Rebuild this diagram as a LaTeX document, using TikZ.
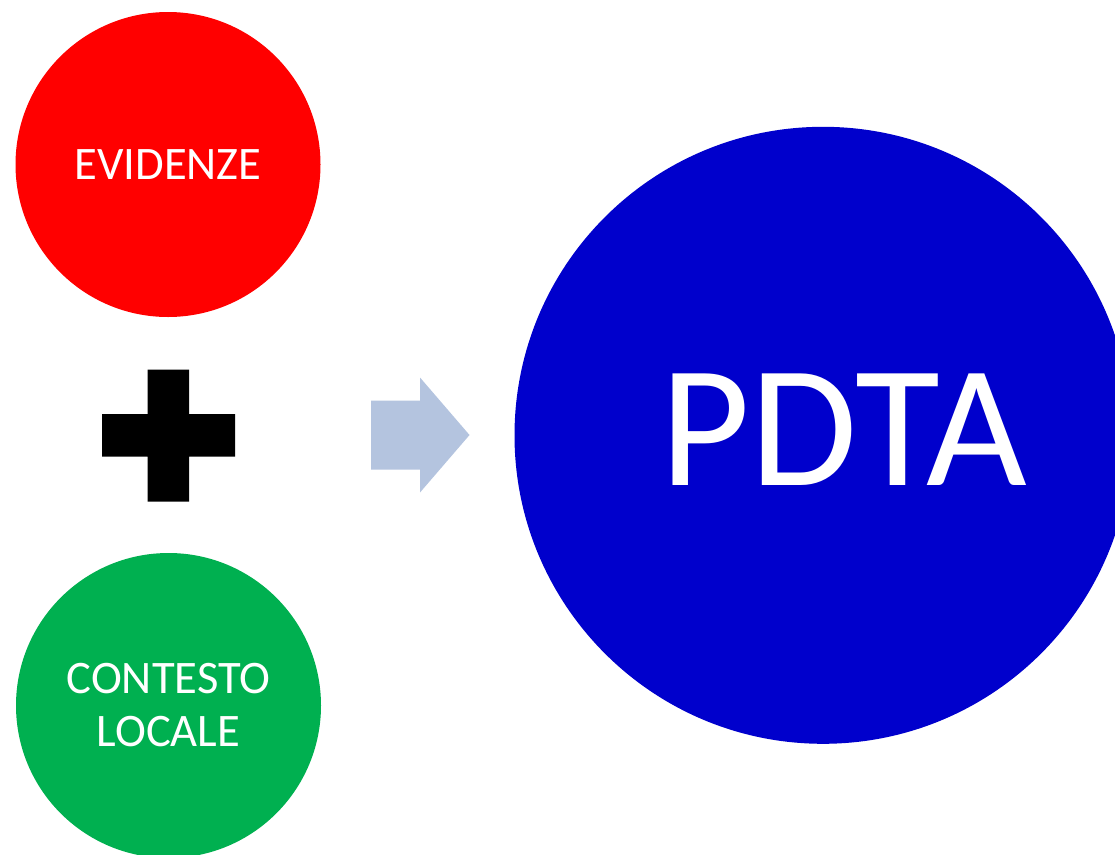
\documentclass[tikz,border=0pt]{standalone}
\usepackage{fontspec}
\setmainfont{Carlito}
\definecolor{cred}{HTML}{FF0000}
\definecolor{cgreen}{HTML}{00B050}
\definecolor{cblue}{HTML}{0000CC}
\definecolor{carrow}{HTML}{B4C4DF}
\begin{document}
\begin{tikzpicture}[x=1pt,y=-1pt,
  bubble/.style={circle,inner sep=0pt,draw=none,text=white,align=center},
  smalltxt/.style={font=\fontsize{46.6}{53}\selectfont}]
\path[use as bounding box] (0,0) rectangle (1115,854);
\clip (0,0) rectangle (1115,854);
\fill[white] (0,0) rectangle (1115,854);
% circles
\node[bubble,fill=cred,minimum size=305pt,smalltxt] (evid) at (168,164.5) {EVIDENZE};
\node[bubble,fill=cgreen,minimum size=305pt,smalltxt] (cont) at (168.5,705.5) {CONTESTO\\LOCALE};
\node[bubble,fill=cblue,minimum size=617pt] (pdta) at (823,435.3) {};
\node[text=white,inner sep=0pt,font=\fontsize{174}{200}\selectfont] (pdtatext) at (844,429.5) {PDTA};
% plus sign
\fill[black] (147.5,369.5) -- (189,369.5) -- (189,414) -- (235,414) -- (235,456.5)
  -- (189,456.5) -- (189,501.5) -- (147.5,501.5) -- (147.5,456.5) -- (102,456.5)
  -- (102,414) -- (147.5,414) -- cycle;
% arrow
\fill[carrow] (371,400.5) -- (420,400.5) -- (420,377.5) -- (469.5,435) -- (420,492.5)
  -- (420,469.5) -- (371,469.5) -- cycle;
\end{tikzpicture}
\end{document}
